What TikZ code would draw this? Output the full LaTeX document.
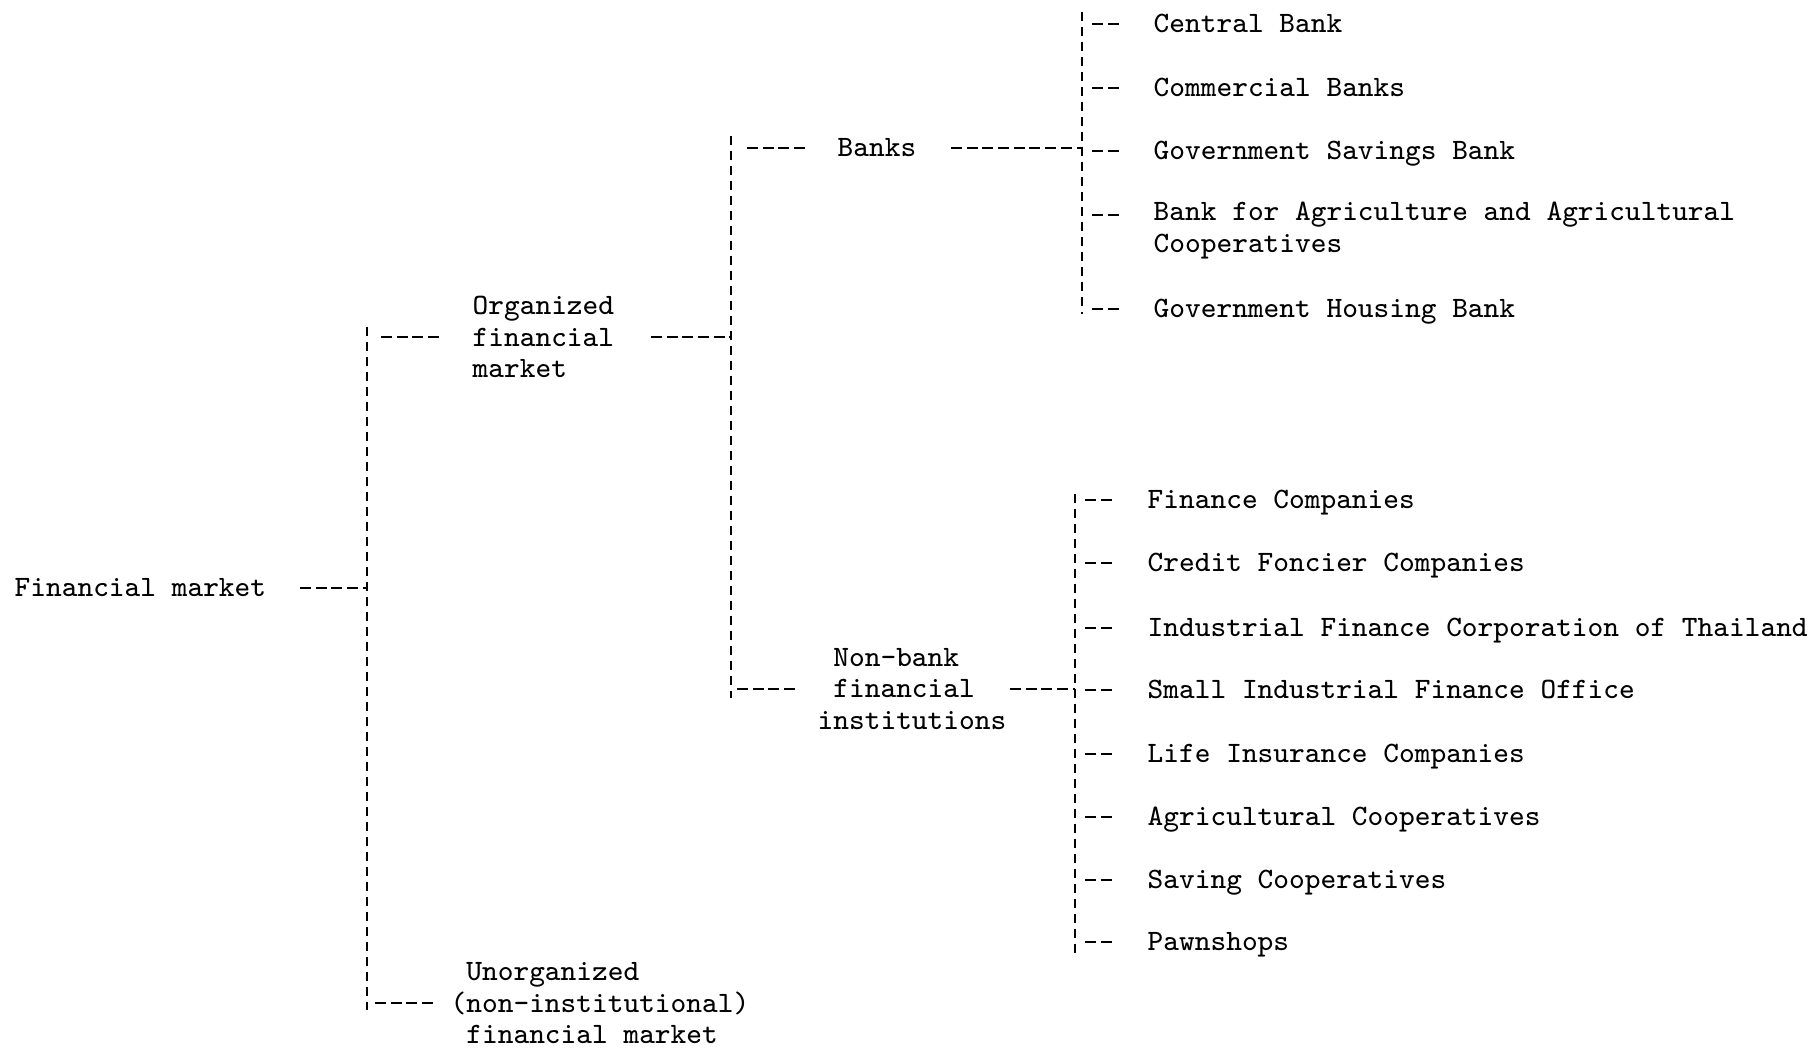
\documentclass[tikz,border=0pt]{standalone}
\usepackage{fontspec}
\tikzset{
  txt/.style={font=\ttfamily\fontsize{8.42}{8.93}\selectfont, inner sep=0pt, anchor=west},
  leaf/.style={txt, text height=5.0pt, text depth=0pt},
  hdash/.style={line width=0.55pt, dash pattern=on 1.1mm off 0.47mm},
  vdash/.style={line width=0.45pt, dash pattern=on 0.9mm off 0.6mm},
}
\begin{document}
\begin{tikzpicture}
\useasboundingbox (0,0) rectangle (18.1,10.49);

% -------- Level 0: Financial market --------
\node[leaf] (fm) at (0.14,4.61) {Financial market};

\coordinate (sAtop) at (3.67,7.22);
\coordinate (sAbot) at (3.67,0.39);
\draw[vdash] (sAtop) -- (sAbot);
\draw[hdash] ([xshift=3.3mm]fm.east) -- (fm.east -| sAtop);

% -------- Level 1: organized / unorganized --------
\node[txt,align=left] (org) at (4.72,7.12) {Organized\\financial\\market};
\node[txt,align=left] (unorg) at (4.50,0.46)
  {\phantom{(}Unorganized\\(non-institutional)\\\phantom{(}financial market};

\draw[hdash,shorten <=1.4mm] (sAtop |- org.west) -- ([xshift=-3.3mm]org.west);
\draw[hdash,shorten <=0.8mm] (sAtop |- unorg.west) -- ([xshift=-1.7mm]unorg.west);

% spine of the organized market
\coordinate (sBtop) at (7.31,9.13);
\coordinate (sBbot) at (7.31,3.51);
\draw[vdash] (sBtop) -- (sBbot);
\draw[hdash] ([xshift=3.6mm]org.east) -- (org.east -| sBtop);

% -------- Level 2: banks / non-bank --------
\node[leaf] (banks) at (8.37,9.01) {Banks};
\node[txt,align=left] (nonbank) at (8.17,3.60)
  {\phantom{i}Non-bank\\\phantom{i}financial\\institutions};

\draw[hdash,shorten <=1.6mm] (sBtop |- banks.west) -- ([xshift=-3.1mm]banks.west);
\draw[hdash,shorten <=0.6mm] (sBtop |- nonbank.west) -- ([xshift=-2.0mm]nonbank.west);

% spine of the banks
\coordinate (sCtop) at (10.82,10.37);
\coordinate (sCbot) at (10.82,7.35);
\draw[vdash] (sCtop) -- (sCbot);
\draw[hdash] ([xshift=3.4mm]banks.east) -- (banks.east -| sCtop);

% spine of the non-bank institutions
\coordinate (sDtop) at (10.75,5.55);
\coordinate (sDbot) at (10.75,0.93);
\draw[vdash] (sDtop) -- (sDbot);
\draw[hdash] ([xshift=0.3mm]nonbank.east) -- (nonbank.east -| sDtop);

% -------- Level 3: banks --------
\foreach \i/\y/\name in {1/10.25/Central Bank, 2/9.61/Commercial Banks,
    3/8.98/Government Savings Bank, 5/7.40/Government Housing Bank}{
  \node[leaf] (bk\i) at (11.53,\y) {\name};
  \draw[hdash,shorten <=1.0mm] (sCtop |- bk\i.west) -- ([xshift=-3.3mm]bk\i.west);
}
\node[txt,align=left] (bk4) at (11.53,8.185)
  {Bank for Agriculture and Agricultural\\Cooperatives};
\draw[hdash,shorten <=1.0mm] ([yshift=1.55mm]sCtop |- bk4.west) -- ([xshift=-3.3mm,yshift=1.55mm]bk4.west);

% -------- Level 3: non-bank institutions --------
\foreach \y/\name [count=\i] in {5.49/Finance Companies, 4.86/Credit Foncier Companies,
    4.21/Industrial Finance Corporation of Thailand, 3.59/Small Industrial Finance Office,
    2.95/Life Insurance Companies, 2.32/Agricultural Cooperatives,
    1.69/Saving Cooperatives, 1.07/Pawnshops}{
  \node[leaf] (nb\i) at (11.47,\y) {\name};
  \draw[hdash,shorten <=1.0mm] (sDtop |- nb\i.west) -- ([xshift=-3.3mm]nb\i.west);
}

\end{tikzpicture}
\end{document}
